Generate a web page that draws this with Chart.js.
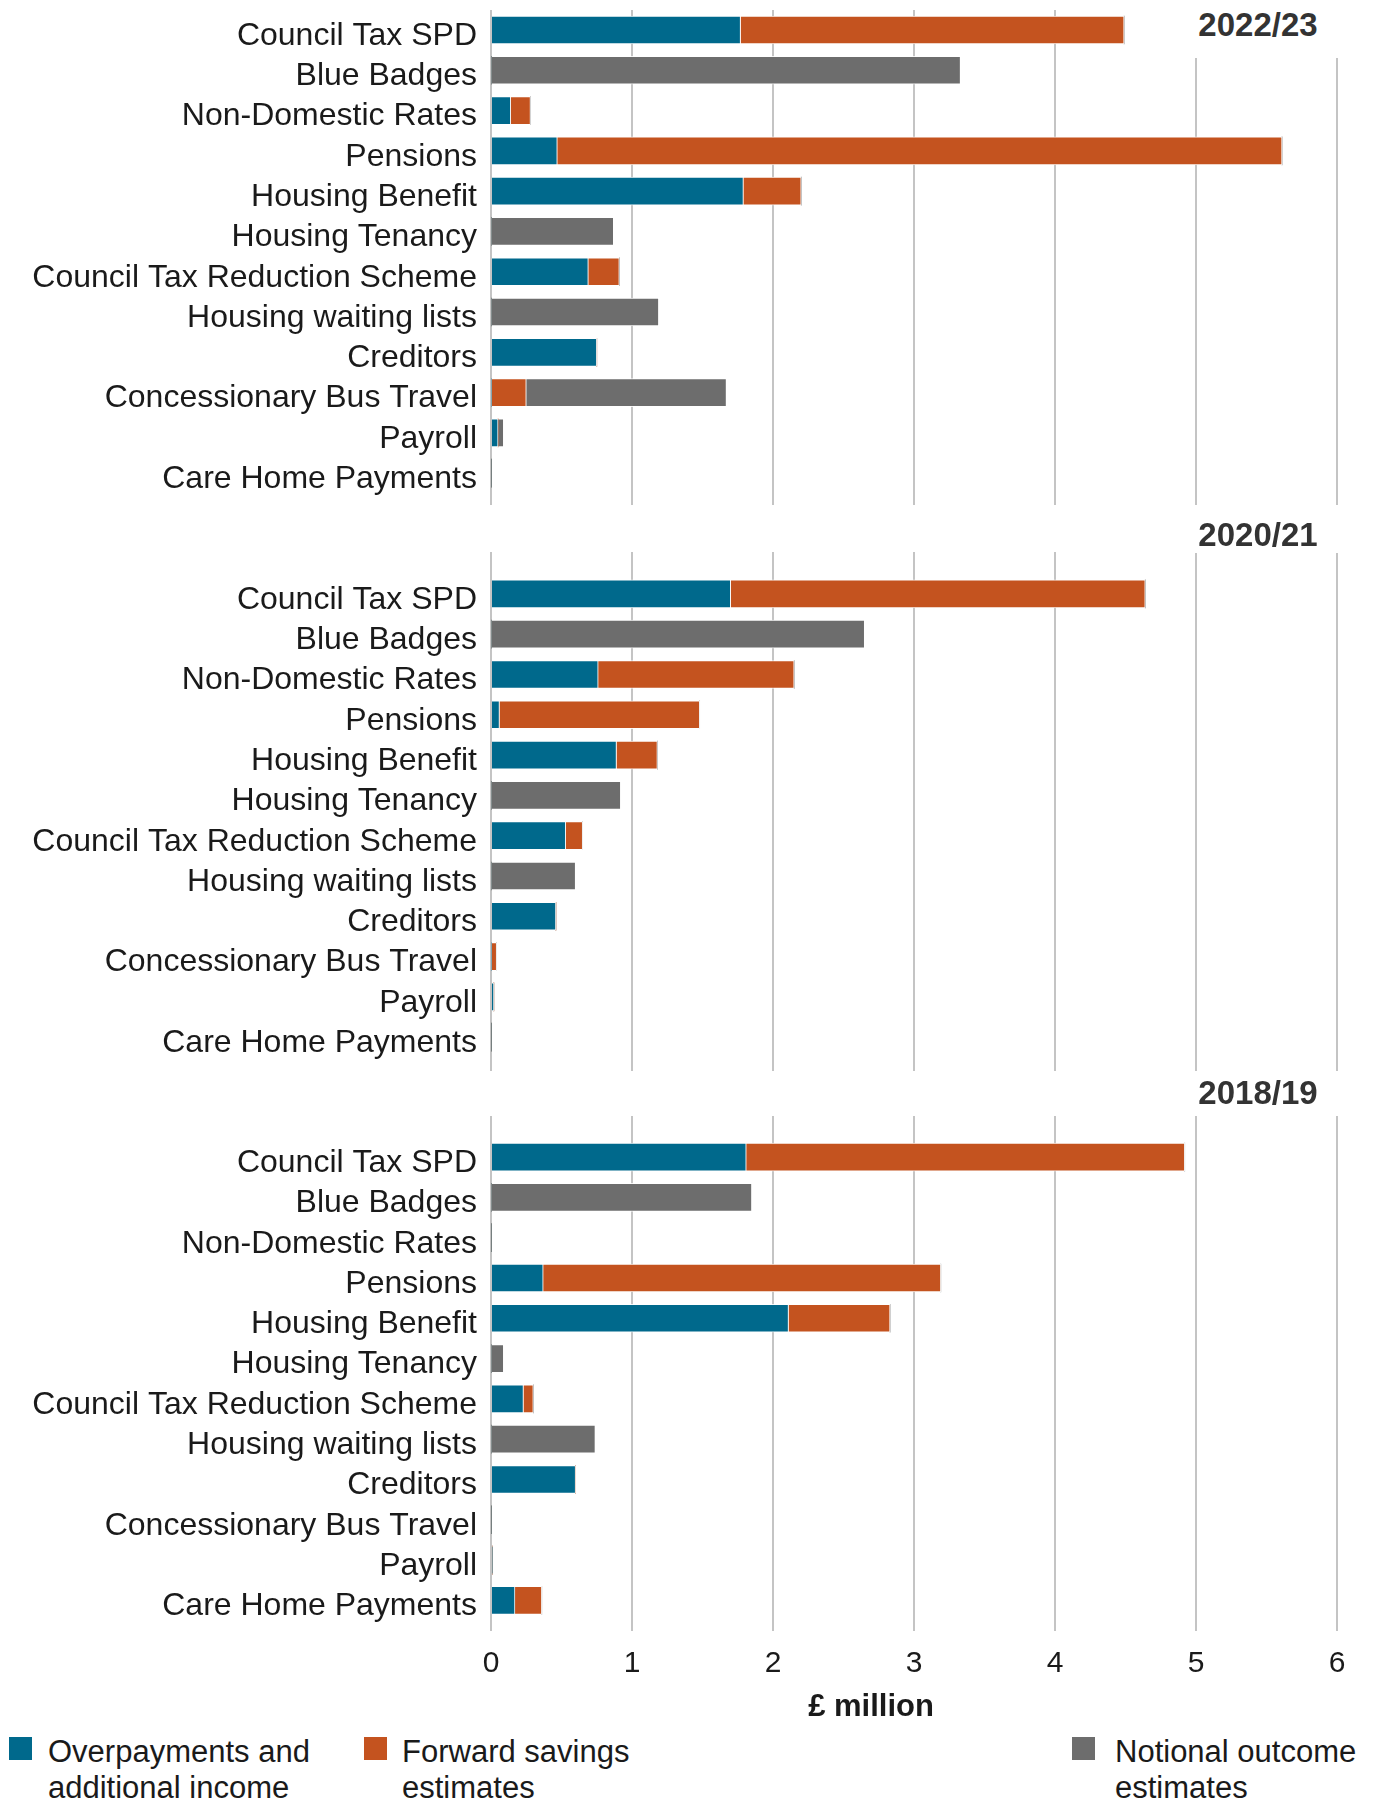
<!doctype html>
<html>
    <head>
        <meta charset="utf-8">
        <script src="https://cdn.jsdelivr.net/npm/chart.js"></script>
        <style>
            body {
                margin: 0px;
                background: white;
                font-family: "Liberation Sans", Arial, sans-serif;
                color: #1a1a1a;
            }

            .page {
                position: relative;
                width: 1392px;
                height: 1801px;
                overflow: hidden;
            }

            .page canvas {
                position: absolute;
                left: 0px;
            }

            .year {
                position: absolute;
                left: 1160px;
                width: 196px;
                text-align: center;
                font-weight: bold;
                font-size: 33px;
                color: #333;
                background: white;
            }

            .unit {
                position: absolute;
                left: 771px;
                width: 200px;
                top: 1688px;
                line-height: 36px;
                text-align: center;
                font-weight: bold;
                font-size: 31px;
            }

            .key {
                position: absolute;
                top: 1734px;
                font-size: 31px;
                line-height: 36px;
            }

            .key span {
                position: absolute;
                top: 3px;
                width: 23px;
                height: 23px;
            }
        </style>
    </head>
    <body>
        <div class="page">
            <canvas id="p2223" width="1392" height="515" style="top: 0px;"></canvas>
            <canvas id="p2021" width="1392" height="560" style="top: 520px;"></canvas>
            <canvas id="p1819" width="1392" height="601" style="top: 1090px;"></canvas>

            <div class="year" style="top: 0px; height: 58px; line-height: 50px;">2022/23</div>
            <div class="year" style="top: 517px; line-height: 36px;">2020/21</div>
            <div class="year" style="top: 1075px; line-height: 36px;">2018/19</div>

            <div class="unit">£ million</div>

            <div class="key" style="left: 48px;"><span style="left: -39px; background: #00698c;"></span>Overpayments and<br>additional income</div>
            <div class="key" style="left: 402px;"><span style="left: -38px; background: #c4531f;"></span>Forward savings<br>estimates</div>
            <div class="key" style="left: 1115px;"><span style="left: -43px; background: #6d6d6d;"></span>Notional outcome<br>estimates</div>
        </div>

        <script>
        const categories = ['Council Tax SPD', 'Blue Badges', 'Non-Domestic Rates', 'Pensions', 'Housing Benefit',
            'Housing Tenancy', 'Council Tax Reduction Scheme', 'Housing waiting lists', 'Creditors',
            'Concessionary Bus Travel', 'Payroll', 'Care Home Payments'];
        const xTicks = [0, 1, 2, 3, 4, 5, 6];

        // £ million, same order as categories
        const overpay2223 = [1.77, 0, 0.14, 0.47, 1.79, 0, 0.69, 0, 0.75, 0, 0.05, 0];
        const forward2223 = [2.72, 0, 0.14, 5.14, 0.41, 0, 0.22, 0, 0, 0.25, 0, 0];
        const notional2223 = [0, 3.33, 0, 0, 0, 0.87, 0, 1.19, 0, 1.42, 0.04, 0];

        const overpay2021 = [1.70, 0, 0.76, 0.06, 0.89, 0, 0.53, 0, 0.46, 0, 0.02, 0];
        const forward2021 = [2.94, 0, 1.39, 1.42, 0.29, 0, 0.12, 0, 0, 0.04, 0, 0];
        const notional2021 = [0, 2.65, 0, 0, 0, 0.92, 0, 0.60, 0, 0, 0, 0];

        const overpay1819 = [1.81, 0, 0, 0.37, 2.11, 0, 0.23, 0, 0.60, 0, 0.01, 0.17];
        const forward1819 = [3.11, 0, 0, 2.82, 0.72, 0, 0.07, 0, 0, 0, 0, 0.19];
        const notional1819 = [0, 1.85, 0, 0, 0, 0.09, 0, 0.74, 0, 0, 0, 0];

        const BLUE = '#00698c';
        const ORANGE = '#c4531f';
        const GREY = '#6d6d6d';

        Chart.defaults.font.family = '"Liberation Sans", Arial, sans-serif';
        Chart.defaults.color = '#1a1a1a';

        function series(label, values, colour) {
            return {
                label: label,
                data: values.map((v, i) => ({ x: v, y: i })),
                backgroundColor: colour,
                borderColor: 'rgba(255,255,255,0.85)',
                borderWidth: (c) => (c.raw && c.raw.x > 0 ? 1 : 0),
                barThickness: 28
            };
        }

        function panel(id, over, fwd, notl, yMin, yMax, pad, showX) {
            return new Chart(document.getElementById(id), {
                type: 'bar',
                data: {
                    datasets: [
                        series('Overpayments and additional income', over, BLUE),
                        series('Forward savings estimates', fwd, ORANGE),
                        series('Notional outcome estimates', notl, GREY)
                    ]
                },
                options: {
                    indexAxis: 'y',
                    responsive: false,
                    animation: false,
                    layout: { padding: { top: pad.top, bottom: pad.bottom, left: 0, right: 55 } },
                    plugins: { legend: { display: false }, tooltip: { enabled: false } },
                    scales: {
                        x: {
                            stacked: true,
                            bounds: 'data',
                            min: 0,
                            max: 6,
                            afterBuildTicks: (s) => { s.ticks = xTicks.map(v => ({ value: v })); },
                            afterFit: (s) => {
                                s.height = showX ? 60 : 0;
                                s.paddingLeft = 0;
                                s.paddingRight = 0;
                            },
                            grid: { color: '#c4c4c4', lineWidth: 2, drawTicks: false },
                            border: { display: false },
                            ticks: { display: showX, padding: 15, font: { size: 30 }, color: '#1a1a1a' }
                        },
                        y: {
                            type: 'linear',
                            stacked: true,
                            reverse: true,
                            offset: false,
                            bounds: 'data',
                            min: yMin,
                            max: yMax,
                            afterBuildTicks: (s) => { s.ticks = categories.map((c, i) => ({ value: i })); },
                            afterFit: (s) => {
                                s.width = 491;
                                s.paddingTop = 0;
                                s.paddingBottom = 0;
                            },
                            grid: { display: false, drawTicks: false },
                            border: { display: false },
                            ticks: {
                                autoSkip: false,
                                padding: 14,
                                labelOffset: 6,
                                font: { size: 32 },
                                color: '#1a1a1a',
                                callback: (v) => categories[Math.round(v)] || ''
                            }
                        }
                    }
                }
            });
        }

        panel('p2223', overpay2223, forward2223, notional2223, -0.496, 11.79, { top: 10, bottom: 10 }, false);
        panel('p2021', overpay2021, forward2021, notional2021, -1.04, 11.84, { top: 32, bottom: 9 }, false);
        panel('p1819', overpay1819, forward1819, notional1819, -1.02, 11.76, { top: 26, bottom: 0 }, true);
        </script>
    </body>
</html>
